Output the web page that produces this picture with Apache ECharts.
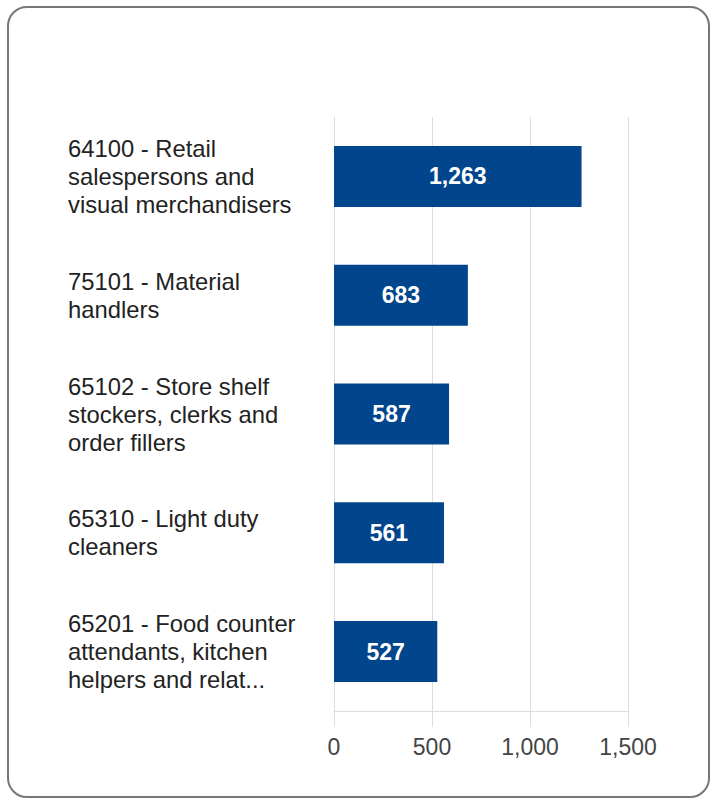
<!DOCTYPE html>
<html>
<head>
<meta charset="utf-8">
<script src="https://cdn.jsdelivr.net/npm/echarts@6/dist/echarts.min.js"></script>
<style>
  html, body { margin: 0; padding: 0; background: #fff; }
  #card {
    position: absolute; left: 7px; top: 6px; width: 703px; height: 792px;
    border: 2px solid #777; border-radius: 20px; box-sizing: border-box;
  }
  #chart { position: absolute; left: 0; top: 0; width: 717px; height: 805px; }
</style>
</head>
<body>
<div id="card"></div>
<div id="chart"></div>
<script>
// occupations, top to bottom
const occupations = [
  "64100 - Retail\nsalespersons and\nvisual merchandisers",
  "75101 - Material\nhandlers",
  "65102 - Store shelf\nstockers, clerks and\norder fillers",
  "65310 - Light duty\ncleaners",
  "65201 - Food counter\nattendants, kitchen\nhelpers and relat..."
];
const counts = [1263, 683, 587, 561, 527];
const xTicks = [0, 500, 1000, 1500];

const font = "Liberation Sans, Arial, sans-serif";
const chart = echarts.init(document.getElementById("chart"), null, { renderer: "svg" });
chart.setOption({
  animation: false,
  grid: { left: 334, right: 89, top: 117, bottom: 94, containLabel: false },
  xAxis: {
    type: "value",
    min: xTicks[0],
    max: xTicks[xTicks.length - 1],
    interval: 500,
    axisLine: { show: true, lineStyle: { color: "#ddd", width: 1 } },
    axisTick: { show: true, length: 16, lineStyle: { color: "#ddd" } },
    splitLine: { lineStyle: { color: "#ddd", width: 1 } },
    axisLabel: {
      color: "#444", fontSize: 23, fontFamily: font,
      margin: 24, verticalAlign: "top",
      formatter: (v) => v.toLocaleString("en-US")
    }
  },
  yAxis: {
    type: "category",
    inverse: true,
    data: occupations,
    axisLine: { show: false },
    axisTick: { show: false },
    splitLine: { show: false },
    axisLabel: {
      align: "left", margin: 266, color: "#222", fontSize: 23.8, lineHeight: 28,
      fontFamily: font
    }
  },
  series: [{
    type: "bar",
    data: counts,
    barWidth: 61,
    itemStyle: { color: "#01468c" },
    label: {
      show: true, position: "inside", color: "#fff", fontSize: 23, fontWeight: "bold",
      fontFamily: font,
      formatter: (p) => p.value.toLocaleString("en-US")
    }
  }]
});
</script>
</body>
</html>
